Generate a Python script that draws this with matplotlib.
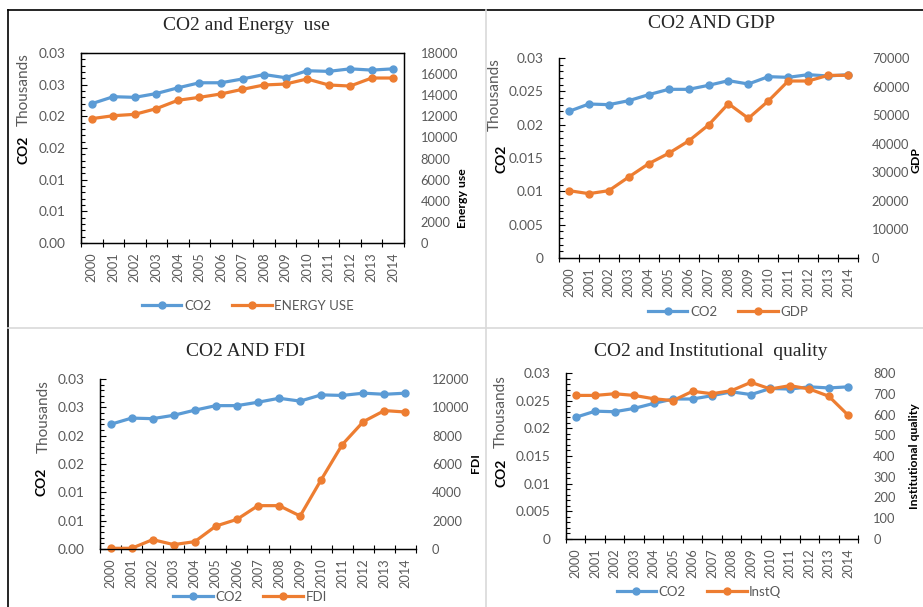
import matplotlib.pyplot as plt
from matplotlib.lines import Line2D
from matplotlib.ticker import AutoMinorLocator, FixedLocator

# data
years = ['2000', '2001', '2002', '2003', '2004', '2005', '2006', '2007',
         '2008', '2009', '2010', '2011', '2012', '2013', '2014']
co2 = [0.0220, 0.0231, 0.0230, 0.0236, 0.0245, 0.0253, 0.0253, 0.0259,
       0.0266, 0.0261, 0.0272, 0.0271, 0.0275, 0.0273, 0.0275]
energy = [11780, 12060, 12190, 12730, 13520, 13800, 14120, 14560,
          14970, 15060, 15540, 14970, 14870, 15630, 15630]
gdp = [23570, 22520, 23570, 28350, 33020, 36630, 40950, 46550,
       54020, 48880, 54950, 61950, 61950, 63930, 63930]
fdi = [50, 50, 660, 310, 520, 1620, 2090, 3060,
       3060, 2330, 4890, 7370, 8990, 9770, 9670]
instq = [692, 692, 700, 692, 676, 667, 712, 700,
         715, 755, 723, 739, 723, 688, 596]

co2_ticks = [0, 0.005, 0.01, 0.015, 0.02, 0.025, 0.03]
co2_labels_2dp = ['0.00', '0.01', '0.01', '0.02', '0.02', '0.03', '0.03']
co2_labels_full = ['0', '0.005', '0.01', '0.015', '0.02', '0.025', '0.03']

W, H = 923, 607
BLUE = '#5B9BD5'
ORANGE = '#ED7D31'
GREY = '#595959'
SANS = 'Lato'
SERIF = 'Liberation Serif'

plt.rcParams['font.family'] = [SANS, 'DejaVu Sans']

fig = plt.figure(figsize=(W / 100, H / 100), dpi=100)


def rect(l, t, r, b):
    return [l / W, 1 - b / H, (r - l) / W, (b - t) / H]


def fx(x):
    return x / W


def fy(y):
    return 1 - y / H


def panel(box, right_vals, right_max, right_step, left_labels, title, title_xy,
          right_name, right_xy, thou_xy, co2_xy, leg_xy, leg_name,
          rpad, framed=False):
    ax = fig.add_axes(rect(*box))
    ax2 = ax.twinx()
    x = list(range(len(years)))

    l1, = ax.plot(x, co2, color=BLUE, lw=2.3, marker='o', ms=5, clip_on=False)
    l2, = ax2.plot(x, right_vals, color=ORANGE, lw=2.3, marker='o', ms=5, clip_on=False)

    ax.set_xlim(-0.5, len(years) - 0.5)
    ax.set_ylim(0, 0.03)
    ax2.set_ylim(0, right_max)

    # left axis
    ax.yaxis.set_major_locator(FixedLocator(co2_ticks))
    ax.set_yticklabels(left_labels)
    ax.yaxis.set_minor_locator(AutoMinorLocator(5))
    ax.tick_params(axis='y', which='major', direction='in', length=4, width=0.8,
                   pad=11, labelsize=9.8, labelcolor=GREY)
    ax.tick_params(axis='y', which='minor', direction='in', length=3, width=0.8)

    # category axis: labels at centres, ticks between categories
    ax.set_xticks(x)
    ax.set_xticklabels(years, rotation=90, fontsize=9.2, color=GREY)
    ax.set_xticks([i - 0.5 for i in range(len(years) + 1)], minor=True)
    ax.tick_params(axis='x', which='major', length=0, pad=7)
    ax.tick_params(axis='x', which='minor', direction='inout', length=6, width=0.8)

    # right axis
    ax2.set_yticks(list(range(0, right_max + 1, right_step)))
    ax2.tick_params(axis='y', length=0, pad=rpad, labelsize=9.3, labelcolor=GREY)

    for a in (ax, ax2):
        for s in a.spines.values():
            s.set_color('black')
            s.set_linewidth(0.9)
        if not framed:
            a.spines['top'].set_visible(False)
            a.spines['right'].set_visible(False)

    fig.text(fx(title_xy[0]), fy(title_xy[1]), title, family=SERIF, fontsize=14,
             color='#262626', ha='center', va='center')
    fig.text(fx(thou_xy[0]), fy(thou_xy[1]), 'Thousands', rotation=90, fontsize=11,
             color=GREY, ha='center', va='center')
    fig.text(fx(co2_xy[0]), fy(co2_xy[1]), 'CO2', rotation=90, fontsize=10,
             fontweight='bold', color='black', ha='center', va='center')
    fig.text(fx(right_xy[0]), fy(right_xy[1]), right_name, rotation=90, fontsize=8.8,
             fontweight='bold', color='black', ha='center', va='center')

    fig.legend([l1, l2], ['CO2', leg_name], loc='center',
               bbox_to_anchor=(fx(leg_xy[0]), fy(leg_xy[1])), ncol=2,
               frameon=False, fontsize=9.5, labelcolor=GREY, handlelength=3.0,
               handletextpad=0.2, columnspacing=1.6, borderpad=0)


panel((81, 53, 404, 243), energy, 18000, 2000, co2_labels_2dp,
      'CO2 and Energy  use', (246, 25), 'Energy use', (463, 198),
      (24, 90), (24, 150), (248, 306), 'ENERGY USE', 12, framed=True)

panel((559, 58, 858, 258), gdp, 70000, 10000, co2_labels_full,
      'CO2 AND GDP', (712, 24), 'GDP', (916, 160),
      (495, 95), (501, 159), (728, 312), 'GDP', 10)

panel((100, 379, 416, 549), fdi, 12000, 2000, co2_labels_2dp,
      'CO2 AND FDI', (246, 351), 'FDI', (475, 463),
      (44, 417), (42, 482), (250, 597), 'FDI', 11.5)

panel((566, 373, 858, 539), instq, 800, 100, co2_labels_full,
      'CO2 and Institutional  quality', (711, 352), 'Institutional quality', (915, 456),
      (501, 412), (502, 473), (699, 592), 'InstQ', 11)

# grid of the pasted document table
fig.add_artist(Line2D([fx(8), 1], [fy(10), fy(10)], color='black', lw=1.2))
fig.add_artist(Line2D([fx(8), fx(8)], [fy(10), 0], color='black', lw=1.2))
fig.add_artist(Line2D([fx(486), fx(486)], [fy(10), 0], color='#D9D9D9', lw=1.2))
fig.add_artist(Line2D([fx(8), 1], [fy(328), fy(328)], color='#D9D9D9', lw=1.2))

plt.savefig('out.png', dpi=100)
